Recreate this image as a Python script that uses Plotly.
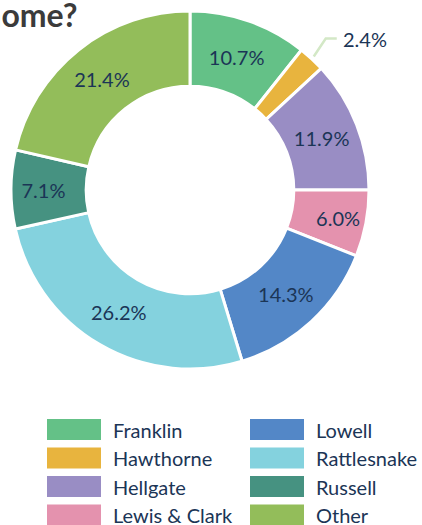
import math
import plotly.graph_objects as go

labels = ["Franklin", "Hawthorne", "Hellgate", "Lewis & Clark",
          "Lowell", "Rattlesnake", "Russell", "Other"]
percents = [10.7, 2.4, 11.9, 6.0, 14.3, 26.2, 7.1, 21.4]
colors = ["#64c187", "#e8b43e", "#998dc4", "#e492ae",
          "#5387c7", "#84d2de", "#469281", "#93bd5a"]
title_text = "Which high school is closest to your home?"

W, H = 422, 525
text_color = "#1b3556"
font_family = "Lato, 'Noto Sans', sans-serif"

# pie geometry (pixels)
cx, cy, R = 190, 190, 179
small = [v < 4 for v in percents]
positions = ["none" if s else "inside" for s in small]

fig = go.Figure()
fig.add_trace(go.Pie(
    labels=labels,
    values=percents,
    sort=False,
    direction="clockwise",
    rotation=0,
    hole=0.58,
    marker=dict(colors=colors, line=dict(color="white", width=3)),
    texttemplate="%{value:.1f}%",
    textposition=positions,
    insidetextorientation="horizontal",
    textfont=dict(family=font_family, size=20, color=text_color),
    showlegend=False,
    domain=dict(x=[(cx - R) / W, (cx + R) / W], y=[1 - (cy + R) / H, 1 - (cy - R) / H]),
))

shapes = []
annotations = []

# leader line + outside label for small slices
total = sum(percents)
cum = 0.0
for v, s in zip(percents, small):
    mid = (cum + v / 2) / total * 2 * math.pi
    cum += v
    if not s:
        continue
    px0 = cx + (R + 3) * math.sin(mid)
    py0 = cy - (R + 3) * math.cos(mid)
    px1, py1 = px0 + 12, py0 - 18
    px2, py2 = px1 + 11, py1
    path = "M {:.4f},{:.4f} L {:.4f},{:.4f} L {:.4f},{:.4f}".format(
        px0 / W, 1 - py0 / H, px1 / W, 1 - py1 / H, px2 / W, 1 - py2 / H)
    shapes.append(dict(type="path", xref="paper", yref="paper", path=path,
                       line=dict(color="#d3e8c6", width=2.5)))
    annotations.append(dict(text="{:.1f}%".format(v), xref="paper", yref="paper",
                            x=(px2 + 4) / W, y=1 - py2 / H,
                            xanchor="left", yanchor="middle", showarrow=False,
                            font=dict(family=font_family, size=20, color=text_color)))

n_rows = 4
for i, (lab, col) in enumerate(zip(labels, colors)):
    c, r = divmod(i, n_rows)
    x0 = 47 + c * 203
    yc = 429.5 + r * 28.5
    shapes.append(dict(type="rect", xref="paper", yref="paper",
                       x0=x0 / W, x1=(x0 + 54) / W,
                       y0=1 - (yc + 10.5) / H, y1=1 - (yc - 10.5) / H,
                       fillcolor=col, line=dict(width=0)))
    annotations.append(dict(text=lab, xref="paper", yref="paper",
                            x=(x0 + 64) / W, y=1 - yc / H,
                            xanchor="left", yanchor="middle", showarrow=False,
                            font=dict(family=font_family, size=20, color=text_color)))

annotations.append(dict(text="<b>" + title_text + "</b>", xref="paper", yref="paper",
                        x=80 / W, y=1 + 7 / H, xanchor="right", yanchor="top",
                        showarrow=False,
                        font=dict(family=font_family, size=32, color="#3b3b3b")))

fig.update_layout(
    width=W, height=H,
    margin=dict(l=0, r=0, t=0, b=0),
    paper_bgcolor="white",
    plot_bgcolor="white",
    shapes=shapes,
    annotations=annotations,
)

fig.write_html("out.html",
               config={"displayModeBar": False},
               post_script="document.body.style.margin='0';document.body.style.overflow='hidden';")
